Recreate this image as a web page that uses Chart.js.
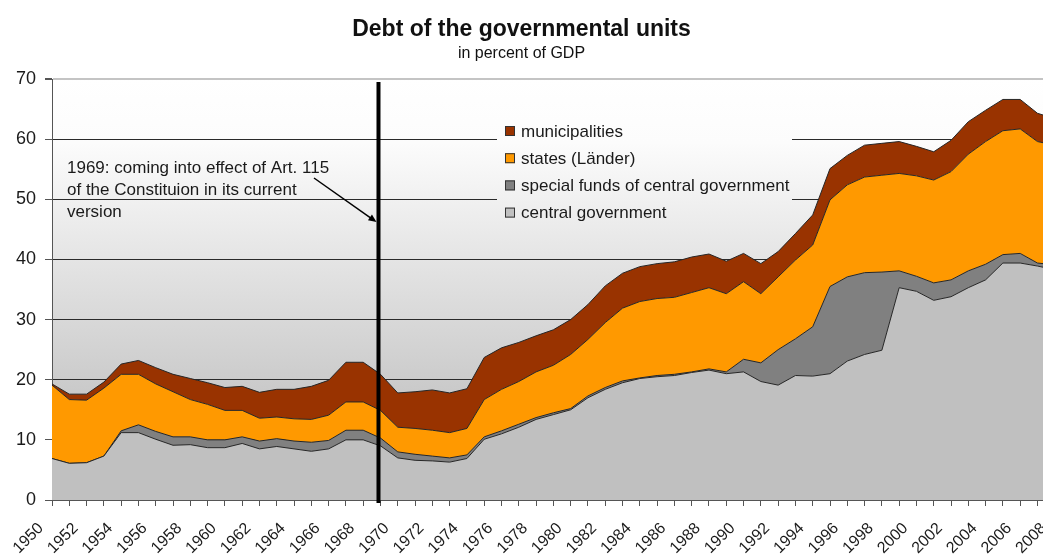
<!DOCTYPE html>
<html>
<head>
<meta charset="utf-8">
<script src="https://cdn.jsdelivr.net/npm/chart.js@4.4.1/dist/chart.umd.min.js"></script>
<style>
  html, body { margin: 0; padding: 0; background: #fff; overflow: hidden; }
  #wrap { width: 1043px; height: 556px; position: relative; }
</style>
</head>
<body>
<div id="wrap"><canvas id="graficoDivida"></canvas></div>
<script>
// Dados (% do PIB)
const anos = [1950, 1951, 1952, 1953, 1954, 1955, 1956, 1957, 1958, 1959,
  1960, 1961, 1962, 1963, 1964, 1965, 1966, 1967, 1968, 1969,
  1970, 1971, 1972, 1973, 1974, 1975, 1976, 1977, 1978, 1979,
  1980, 1981, 1982, 1983, 1984, 1985, 1986, 1987, 1988, 1989,
  1990, 1991, 1992, 1993, 1994, 1995, 1996, 1997, 1998, 1999,
  2000, 2001, 2002, 2003, 2004, 2005, 2006, 2007, 2008];

const centralGov = [6.9, 6.1, 6.2, 7.3, 11.2, 11.2, 10.1, 9.1, 9.2, 8.7,
  8.7, 9.4, 8.5, 8.9, 8.5, 8.1, 8.5, 10.0, 10.0, 9.0,
  7.0, 6.6, 6.5, 6.3, 6.9, 10.1, 11.0, 12.1, 13.4, 14.2,
  15.0, 17.0, 18.4, 19.5, 20.2, 20.5, 20.7, 21.2, 21.6, 21.0,
  21.3, 19.7, 19.1, 20.7, 20.6, 21.0, 23.1, 24.2, 24.9, 35.3,
  34.7, 33.2, 33.8, 35.3, 36.6, 39.4, 39.4, 38.9, 38.3];

const specialFunds = [0, 0, 0, 0, 0.3, 1.3, 1.3, 1.4, 1.3, 1.3,
  1.3, 1.1, 1.3, 1.3, 1.3, 1.5, 1.4, 1.6, 1.6, 1.3,
  1.0, 1.0, 0.8, 0.7, 0.6, 0.4, 0.5, 0.5, 0.3, 0.3,
  0.2, 0.3, 0.3, 0.3, 0.1, 0.2, 0.2, 0.1, 0.2, 0.3,
  2.1, 3.1, 5.9, 6.1, 8.2, 14.5, 14.0, 13.6, 13.0, 2.8,
  2.5, 2.9, 2.8, 2.8, 2.6, 1.4, 1.6, 0.5, 0.8];

const states = [12.2, 10.6, 10.4, 11.3, 9.4, 8.4, 7.9, 7.5, 6.2, 5.9,
  4.9, 4.4, 3.8, 3.6, 3.7, 3.8, 4.2, 4.7, 4.7, 4.6,
  4.1, 4.3, 4.3, 4.2, 4.4, 6.2, 6.9, 7.1, 7.6, 7.9,
  9.0, 9.4, 10.8, 12.1, 12.7, 12.8, 12.8, 13.2, 13.5, 13.0,
  12.9, 11.5, 12.1, 13.1, 13.6, 14.4, 15.3, 15.9, 16.1, 16.2,
  16.7, 17.1, 18.0, 19.4, 20.4, 20.6, 20.7, 20.2, 19.9];

const municipalities = [0.2, 0.9, 1.0, 1.0, 1.7, 2.3, 2.7, 2.9, 3.5, 3.6,
  3.8, 4.0, 4.3, 4.6, 4.9, 5.5, 5.8, 6.6, 6.6, 6.0,
  5.7, 6.1, 6.7, 6.6, 6.6, 7.0, 6.9, 6.5, 6.0, 5.9,
  5.8, 5.8, 6.1, 5.8, 5.8, 5.8, 5.9, 5.9, 5.6, 5.4,
  4.7, 5.0, 4.2, 4.4, 5.0, 5.2, 4.9, 5.3, 5.3, 5.3,
  4.9, 4.7, 5.2, 5.4, 5.2, 5.2, 4.9, 4.7, 4.4];

const ticksY = [0, 10, 20, 30, 40, 50, 60, 70];

const seriesLabels = ['central government', 'special funds of central government', 'states (Länder)', 'municipalities'];
const seriesColors = ['#c0c0c0', '#808080', '#ff9900', '#993300'];

const anoMarco = 1969;
const textoMarco = ['1969: coming into effect of Art. 115', 'of the Constituion in its current', 'version'];

const FONTE = '"Liberation Sans", Arial, sans-serif';

document.addEventListener('DOMContentLoaded', function() {
  if (document.getElementById('graficoDivida')) {
    initGraficoDivida();
  }
});

function initGraficoDivida() {
  Chart.defaults.font.family = FONTE;
  Chart.defaults.color = '#1a1a1a';

  let fundo = null;

  // Fundo em degradê (branco -> cinza) na área do gráfico
  const fundoPlugin = {
    id: 'fundoDegrade',
    beforeDraw(chart) {
      const { ctx, chartArea } = chart;
      fundo = ctx.createLinearGradient(0, chartArea.top, 0, chartArea.bottom);
      fundo.addColorStop(0, '#ffffff');
      fundo.addColorStop(0.15, '#fcfcfc');
      fundo.addColorStop(1, '#b4b4b4');
      ctx.save();
      ctx.fillStyle = fundo;
      ctx.fillRect(chartArea.left, chartArea.top, chartArea.right - chartArea.left, chartArea.bottom - chartArea.top);
      ctx.restore();
    }
  };

  // Legenda dentro da área do gráfico
  const legendaPlugin = {
    id: 'legendaCaixa',
    afterDatasetsDraw(chart) {
      const ctx = chart.ctx;
      ctx.save();
      ctx.fillStyle = fundo;
      ctx.fillRect(497, 112, 295, 118);
      ctx.font = '17px ' + FONTE;
      ctx.textBaseline = 'middle';
      ctx.textAlign = 'left';
      const itens = chart.data.datasets.slice().reverse();
      itens.forEach((ds, i) => {
        const y = 131 + i * 27.2;
        ctx.fillStyle = ds.backgroundColor;
        ctx.fillRect(505, y - 5, 10, 10);
        ctx.strokeStyle = '#333';
        ctx.lineWidth = 1;
        ctx.strokeRect(505.5, y - 4.5, 9, 9);
        ctx.fillStyle = '#1a1a1a';
        ctx.fillText(ds.label, 521, y + 1);
      });
      ctx.restore();
    }
  };

  // Linha vertical de 1969, seta e texto
  const marcoPlugin = {
    id: 'marco1969',
    afterDatasetsDraw(chart) {
      const { ctx, scales, chartArea } = chart;
      const x = scales.x.getPixelForValue(anoMarco) - 2;
      ctx.save();
      ctx.strokeStyle = '#000';
      ctx.lineWidth = 4;
      ctx.beginPath();
      ctx.moveTo(x, scales.y.getPixelForValue(69.5));
      ctx.lineTo(x, chartArea.bottom + 3);
      ctx.stroke();

      // seta
      const x0 = 314, y0 = 178, x1 = x - 2, y1 = 222;
      const ang = Math.atan2(y1 - y0, x1 - x0);
      ctx.lineWidth = 1.5;
      ctx.beginPath();
      ctx.moveTo(x0, y0);
      ctx.lineTo(x1 - 6 * Math.cos(ang), y1 - 6 * Math.sin(ang));
      ctx.stroke();
      ctx.fillStyle = '#000';
      ctx.beginPath();
      ctx.moveTo(x1, y1);
      ctx.lineTo(x1 - 8 * Math.cos(ang) + 3.5 * Math.sin(ang), y1 - 8 * Math.sin(ang) - 3.5 * Math.cos(ang));
      ctx.lineTo(x1 - 8 * Math.cos(ang) - 3.5 * Math.sin(ang), y1 - 8 * Math.sin(ang) + 3.5 * Math.cos(ang));
      ctx.closePath();
      ctx.fill();

      ctx.font = '17px ' + FONTE;
      ctx.fillStyle = '#1a1a1a';
      ctx.textBaseline = 'alphabetic';
      textoMarco.forEach((linha, i) => {
        ctx.fillText(linha, 67, 173 + i * 22);
      });
      ctx.restore();
    }
  };

  function pontos(valores) {
    return anos.map((ano, i) => ({ x: ano, y: valores[i] }));
  }

  const series = [centralGov, specialFunds, states, municipalities];

  const ctx = document.getElementById('graficoDivida').getContext('2d');
  new Chart(ctx, {
    type: 'line',
    data: {
      datasets: series.map((valores, i) => ({
        label: seriesLabels[i],
        data: pontos(valores),
        backgroundColor: seriesColors[i],
        borderColor: '#262626',
        borderWidth: 1,
        fill: i === 0 ? 'origin' : '-1',
        pointRadius: 0,
        tension: 0
      }))
    },
    options: {
      responsive: true,
      maintainAspectRatio: false,
      animation: false,
      layout: { padding: 0 },
      plugins: {
        legend: { display: false },
        tooltip: { enabled: false },
        title: {
          display: true,
          text: 'Debt of the governmental units',
          color: '#111',
          font: { size: 23, weight: 'bold' },
          padding: { top: 16, bottom: 0 }
        },
        subtitle: {
          display: true,
          text: 'in percent of GDP',
          color: '#111',
          font: { size: 16 },
          padding: { top: 0, bottom: 16.2 }
        }
      },
      scales: {
        x: {
          type: 'linear',
          min: anos[0],
          max: 2007.32,
          grid: { drawOnChartArea: false, drawTicks: true, tickLength: 6, color: '#555' },
          border: { color: '#555', width: 1 },
          ticks: {
            stepSize: 1,
            autoSkip: false,
            minRotation: 45,
            maxRotation: 45,
            padding: 13,
            labelOffset: -11,
            color: '#1a1a1a',
            font: { size: 16 },
            callback: function(value) {
              return value % 2 === 0 ? String(value) : '';
            }
          },
          afterBuildTicks: function(scale) {
            scale.ticks = anos.map(a => ({ value: a }));
          },
          afterFit: function(scale) {
            scale.height = 56;
            scale.paddingLeft = 0;
            scale.paddingRight = 0;
          }
        },
        y: {
          stacked: true,
          min: ticksY[0],
          max: ticksY[ticksY.length - 1],
          grid: {
            color: function(c) {
              return c.tick && c.tick.value === 70 ? '#c4c4c4' : '#2a2a2a';
            },
            lineWidth: function(c) {
              return c.tick && c.tick.value === 70 ? 2 : 1;
            },
            tickColor: '#555',
            tickLength: 7
          },
          border: { color: '#555', width: 1 },
          ticks: {
            stepSize: 10,
            padding: 9,
            color: '#1a1a1a',
            font: { size: 18 }
          },
          afterBuildTicks: function(scale) {
            scale.ticks = ticksY.map(v => ({ value: v }));
          },
          afterFit: function(scale) {
            scale.width = 52;
          }
        }
      }
    },
    plugins: [fundoPlugin, legendaPlugin, marcoPlugin]
  });
}
</script>
</body>
</html>
